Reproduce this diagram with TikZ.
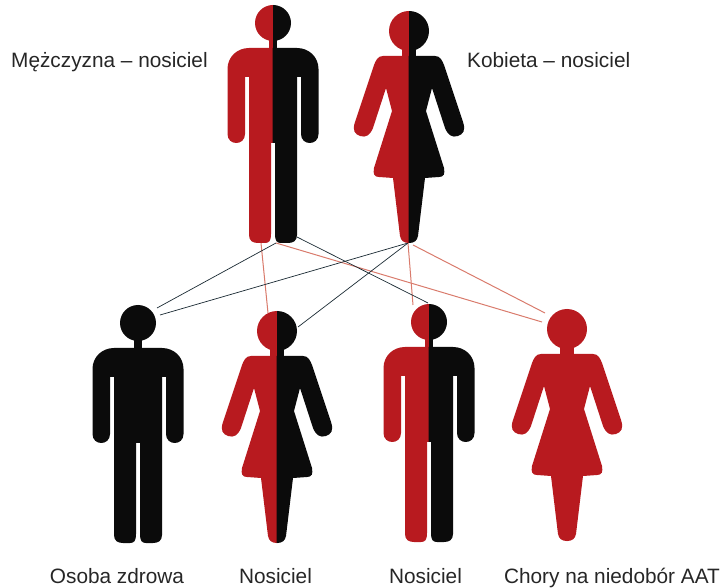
\documentclass[tikz,border=0pt]{standalone}
\usepackage{fontspec}
\setmainfont{Liberation Sans}
\definecolor{carrierred}{HTML}{B81A1F}
\definecolor{linered}{HTML}{D97B6C}
\definecolor{lineblack}{HTML}{1A2A33}
\definecolor{bodyblack}{HTML}{0B0B0B}

\begin{document}
\begin{tikzpicture}[
  x=1pt, y=1pt,
  label/.style={font=\fontsize{20.8}{24}\selectfont, text=black!85, inner sep=0pt, anchor=base},
  healthy/.style={fill=bodyblack},
  sick/.style={fill=carrierred},
  link/.style={draw=lineblack, line width=0.7pt},
  redlink/.style={draw=linered, line width=1pt},
  manhalf/.pic={
    \path[pic actions] (0,18) arc (90:-90:18) -- cycle;
    \path[pic actions] (-0.3,-14) rectangle (4,-27);
    \path[pic actions] (-0.3,-25) -- (24,-25) .. controls (36,-25) and (45.5,-34) .. (45.5,-46)
      -- (45.5,-111) .. controls (45.5,-123) and (28,-123) .. (28,-111)
      -- (28,-54) -- (24,-54) -- (24,-212) .. controls (24,-218) and (20,-220) .. (15,-220)
      -- (8,-220) .. controls (4,-220) and (2,-218) .. (2,-211)
      -- (2,-120) -- (-0.3,-120) -- cycle;
  },
  womanhalf/.pic={
    \path[pic actions] (0,20) arc (90:-90:20) -- cycle;
    \path[pic actions] (-0.3,-17) rectangle (7,-28);
    \path[pic actions] (-0.3,-25) -- (26,-25) .. controls (31,-25) and (33,-29) .. (35,-34)
      -- (54,-91) .. controls (57,-100) and (54,-103) .. (49,-105)
      .. controls (43,-107) and (39,-104) .. (36,-97)
      -- (23,-57) -- (17,-80) -- (35,-137) .. controls (36,-143) and (35,-146) .. (30,-146)
      -- (16,-147) -- (9,-205) .. controls (8,-210) and (5,-212) .. (0,-212)
      -- (-0.3,-212) -- cycle;
  }
]
\useasboundingbox (0,0) rectangle (724,-588);

\coordinate (fatherleft) at (261,-243);
\coordinate (fathermid) at (276,-243);
\coordinate (fatherright) at (297,-237);
\coordinate (mothera) at (408,-243);
\coordinate (motherb) at (413,-245);
\coordinate (healthya) at (157,-308);
\coordinate (healthyb) at (160,-315);
\coordinate (carrierf) at (268,-313);
\coordinate (carrierfb) at (298,-327);
\coordinate (carrierm) at (413,-305);
\coordinate (carriermb) at (428,-303);
\coordinate (sicka) at (542,-322);
\coordinate (sickb) at (545,-313);

\draw[redlink] (fatherleft) -- (carrierf);
\draw[redlink] (fathermid) -- (sicka);
\draw[redlink] (mothera) -- (carrierm);
\draw[redlink] (motherb) -- (sickb);
\draw[link] (fathermid) -- (healthya);
\draw[link] (mothera) -- (healthyb);
\draw[link] (mothera) -- (carrierfb);
\draw[link] (fatherright) -- (carriermb);

% rodzice
\pic[sick, xscale=-1] at (273,-23) {manhalf};
\pic[healthy] at (273,-23) {manhalf};
\pic[sick, xscale=-1] at (409,-31) {womanhalf};
\pic[healthy] at (409,-31) {womanhalf};

% dzieci
\pic[healthy, xscale=-1] at (138,-323) {manhalf};
\pic[healthy] at (138,-323) {manhalf};
\pic[sick, xscale=-1] at (277,-331) {womanhalf};
\pic[healthy] at (277,-331) {womanhalf};
\pic[sick, xscale=-1] at (429,-322) {manhalf};
\pic[healthy] at (429,-322) {manhalf};
\pic[sick, xscale=-1] at (567,-329) {womanhalf};
\pic[sick] at (567,-329) {womanhalf};

\node[label, anchor=base west] (father) at (11,-68) {Mężczyzna – nosiciel};
\node[label, anchor=base west] (mother) at (467,-68) {Kobieta – nosiciel};
\node[label] (healthy) at (117,-583) {Osoba zdrowa};
\node[label] (carrier1) at (275.5,-583) {Nosiciel};
\node[label] (carrier2) at (425.5,-583) {Nosiciel};
\node[label] (patient) at (612,-583) {Chory na niedobór AAT};
\end{tikzpicture}
\end{document}
